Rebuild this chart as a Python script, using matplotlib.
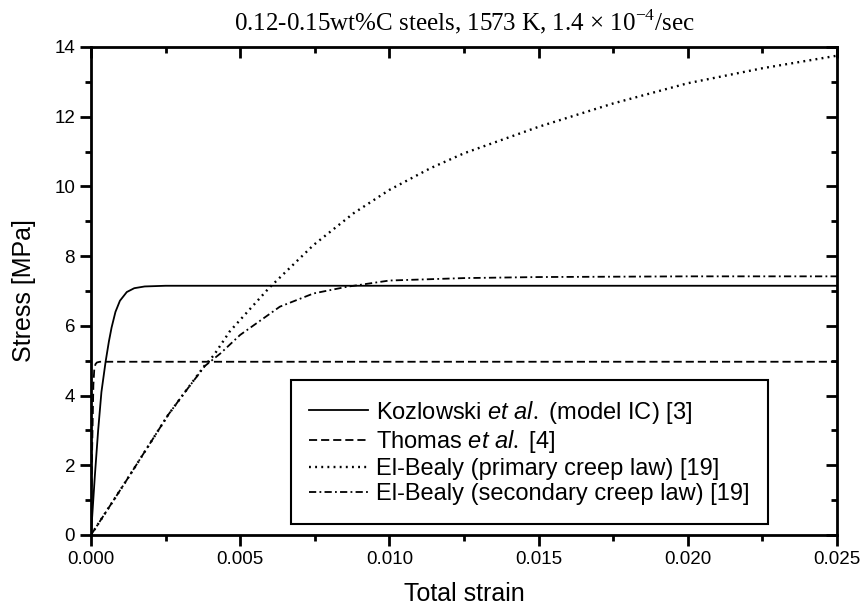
import numpy as np
import matplotlib
matplotlib.use('Agg')
import matplotlib.pyplot as plt
from matplotlib.ticker import MultipleLocator

plt.rcParams['font.family'] = 'Liberation Sans'
plt.rcParams['mathtext.fontset'] = 'custom'
plt.rcParams['mathtext.rm'] = 'Liberation Serif'
plt.rcParams['mathtext.it'] = 'Liberation Sans:italic'

# values
koz_strain = [0, 0.00013, 0.00024, 0.00035, 0.00049, 0.0006, 0.00069, 0.00082,
              0.00097, 0.0012, 0.00145, 0.0018, 0.0025, 0.025]
koz_stress = [0, 1.7, 3.0, 4.1, 4.97, 5.55, 5.95, 6.4, 6.72, 6.97, 7.08, 7.13, 7.15, 7.15]

tho_strain = [0, 0.00004, 0.00008, 0.00011, 0.00015, 0.0002, 0.0003, 0.025]
tho_stress = [0, 2.5, 4.3, 4.75, 4.9, 4.95, 4.97, 4.97]

pri_strain = [0, 0.00114, 0.00259, 0.00315, 0.0038, 0.00412, 0.00465, 0.00596, 0.00746,
              0.0088, 0.0100, 0.01137, 0.0125, 0.0150, 0.0175, 0.0200, 0.0225, 0.0250]
pri_stress = [0, 1.5, 3.45, 4.1, 4.85, 5.16, 5.84, 7.08, 8.32,
              9.23, 9.9, 10.52, 10.95, 11.71, 12.38, 12.96, 13.39, 13.75]

sec_strain = [0, 0.00114, 0.00259, 0.00315, 0.00382, 0.00434, 0.005, 0.00633, 0.00746,
              0.00857, 0.0100, 0.0125, 0.015, 0.020, 0.025]
sec_stress = [0, 1.5, 3.45, 4.1, 4.85, 5.21, 5.74, 6.55, 6.93,
              7.12, 7.30, 7.37, 7.40, 7.42, 7.42]

labels = ['Kozlowski $\\mathit{et\\ al.}$ (model IC) [3]',
          'Thomas $\\mathit{et\\ al.}$ [4]',
          'El-Bealy (primary creep law) [19]',
          'El-Bealy (secondary creep law) [19]']

fig = plt.figure(figsize=(8.64, 6.11), dpi=100)
ax = fig.add_axes([0.1053, 0.1244, 0.8634, 0.7987])

lw = 1.3
ax.plot(koz_strain, koz_stress, color='black', lw=lw, ls='-', label=labels[0])
ax.plot(tho_strain, tho_stress, color='black', lw=lw, ls=(0, (4.5, 2.2)), label=labels[1])
ax.plot(pri_strain, pri_stress, color='black', lw=lw + 0.4, ls=(0, (0.8, 1.8)), label=labels[2])
ax.plot(sec_strain, sec_stress, color='black', lw=lw, ls=(0, (4, 1.8, 1, 1.8)), label=labels[3])

ax.set_xlim(0, 0.025)
ax.set_ylim(0, 14)
ax.xaxis.set_major_locator(MultipleLocator(0.005))
ax.xaxis.set_minor_locator(MultipleLocator(0.0025))
ax.yaxis.set_major_locator(MultipleLocator(2))
ax.yaxis.set_minor_locator(MultipleLocator(1))
ax.xaxis.set_major_formatter(plt.FormatStrFormatter('%.3f'))

for s in ax.spines.values():
    s.set_linewidth(2)

ax.tick_params(which='both', direction='out', width=2, labelsize=13.5)
ax.tick_params(which='major', length=8)
ax.tick_params(which='minor', length=4.5)

# ticks pointing inwards on the top and right edges
top = ax.secondary_xaxis('top')
top.set_xticks(np.arange(0, 0.0251, 0.005))
top.xaxis.set_minor_locator(MultipleLocator(0.0025))
top.tick_params(which='both', direction='in', width=2, labeltop=False)
top.tick_params(which='major', length=8)
top.tick_params(which='minor', length=4.5)
right = ax.secondary_yaxis('right')
right.set_yticks(np.arange(0, 14.1, 2))
right.yaxis.set_minor_locator(MultipleLocator(1))
right.tick_params(which='both', direction='in', width=2, labelright=False)
right.tick_params(which='major', length=8)
right.tick_params(which='minor', length=4.5)

ax.set_xlabel('Total strain', fontsize=18, labelpad=10)
ax.set_ylabel('Stress [MPa]', fontsize=18, labelpad=13)
ax.set_title('0.12-0.15wt%C steels, 1573 K, 1.4 \u00d7 10$^{\\mathrm{-4}}$/sec',
             fontsize=18, family='Liberation Serif', pad=12)

leg = ax.legend(loc='lower right', bbox_to_anchor=(0.9075, 0.0225), borderaxespad=0,
                fontsize=17, handlelength=2.5, handletextpad=0.3,
                labelspacing=0.12, borderpad=0.8,
                fancybox=False, edgecolor='black', framealpha=1)
leg.get_frame().set_linewidth(1.5)

fig.savefig('out.png', dpi=100)
